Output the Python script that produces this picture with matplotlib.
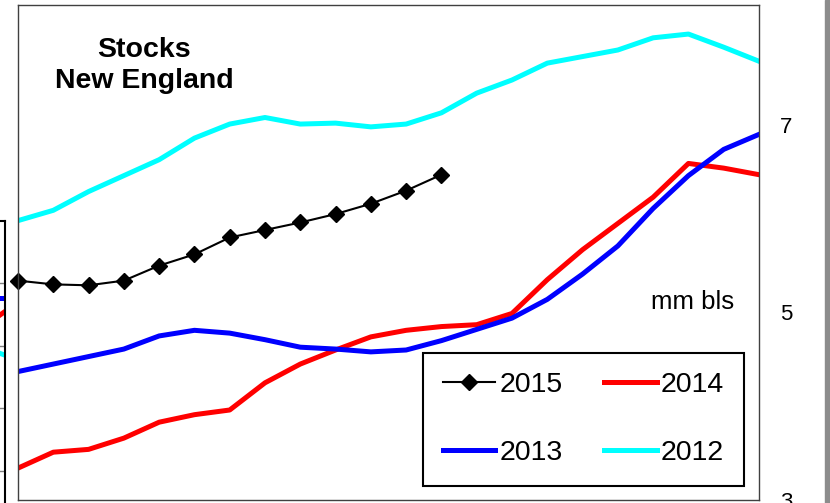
import matplotlib.pyplot as plt
from matplotlib.patches import Rectangle

plt.rcParams['font.family'] = ['Liberation Sans', 'DejaVu Sans']

# semanas (eje x sin etiquetas)
semanas = list(range(22))

stocks_2015 = [5.34, 5.30, 5.29, 5.34, 5.50, 5.62, 5.80, 5.88, 5.96, 6.05, 6.16, 6.30, 6.47]
stocks_2014 = [3.34, 3.51, 3.54, 3.66, 3.83, 3.91, 3.96, 4.25, 4.45, 4.60, 4.74, 4.81,
               4.85, 4.87, 4.99, 5.35, 5.67, 5.95, 6.23, 6.59, 6.54, 6.47]
stocks_2013 = [4.37, 4.45, 4.53, 4.61, 4.75, 4.81, 4.78, 4.71, 4.63, 4.61, 4.58, 4.60,
               4.70, 4.82, 4.94, 5.14, 5.41, 5.71, 6.11, 6.46, 6.74, 6.90]
stocks_2012 = [5.98, 6.09, 6.29, 6.46, 6.63, 6.86, 7.01, 7.08, 7.01, 7.02, 6.98, 7.01,
               7.13, 7.34, 7.48, 7.66, 7.73, 7.80, 7.93, 7.97, 7.83, 7.68]

ticks_derecha = [3, 5, 7]

# trozo del grafico vecino (a la izquierda, cortado)
vecino_x = [9, 10]
vecino_azul = [3.76, 3.76]
vecino_rojo = [3.45, 3.55]
vecino_cian = [2.90, 2.85]
vecino_grid = [1, 2, 3, 4]

fig = plt.figure(figsize=(8.3, 5.03), dpi=100)

# grafico vecino
ax0 = fig.add_axes([-0.1, -30/503, 0.1 + 5/830, 312/503])
ax0.plot(vecino_x, vecino_azul, color='#0000FF', lw=3.6)
ax0.plot(vecino_x, vecino_rojo, color='#FF0000', lw=3.6)
ax0.plot(vecino_x, vecino_cian, color='#00FFFF', lw=3.6)
ax0.set_xlim(0, 10)
ax0.set_ylim(0, 5)
ax0.set_yticks(vecino_grid)
ax0.set_xticks([])
ax0.yaxis.grid(True, color='#808080', lw=1)
ax0.tick_params(length=0, labelleft=False)
for s in ['left', 'bottom']:
    ax0.spines[s].set_visible(False)
for s in ['top', 'right']:
    ax0.spines[s].set_linewidth(1.5)

# grafico principal
ax = fig.add_axes([18/830, 3/503, 741/830, 495/503])
l12, = ax.plot(semanas, stocks_2012, color='#00FFFF', lw=3.6, label='2012')
l14, = ax.plot(semanas, stocks_2014, color='#FF0000', lw=3.6, label='2014')
l13, = ax.plot(semanas, stocks_2013, color='#0000FF', lw=3.6, label='2013')
l15, = ax.plot(semanas[:len(stocks_2015)], stocks_2015, color='black', lw=1.5,
               marker='D', markersize=8.3, label='2015', clip_on=False)

ax.set_xlim(0, 21)
ax.set_ylim(3.04, 8.28)
ax.set_xticks([])
ax.yaxis.tick_right()
ax.set_yticks(ticks_derecha)
ax.tick_params(axis='y', length=0, pad=15, labelsize=16)
for s in ax.spines.values():
    s.set_color('#404040')
    s.set_linewidth(1)

fig.text(144/830, 1 - 37/503, 'Stocks\nNew England', ha='center', va='top',
         fontsize=20.5, fontweight='bold', linespacing=1.27)
fig.text(693/830, 1 - 302/503, 'mm bls', ha='center', va='center', fontsize=18.5)

leg = ax.legend(handles=[l15, l13, l14, l12], ncol=2, loc='lower left',
                bbox_to_anchor=(423/830, 17/503), bbox_transform=fig.transFigure,
                fontsize=20.5, fancybox=False, edgecolor='black', framealpha=1,
                borderpad=0.69, handlelength=1.85, handletextpad=0.15,
                columnspacing=1.44, labelspacing=1.48, borderaxespad=0)
leg.get_frame().set_linewidth(1.5)

fig.add_artist(Rectangle((825/830, 0), 5/830, 1, transform=fig.transFigure,
                         color='#8c8c8c'))

fig.savefig('out.png', dpi=100)
